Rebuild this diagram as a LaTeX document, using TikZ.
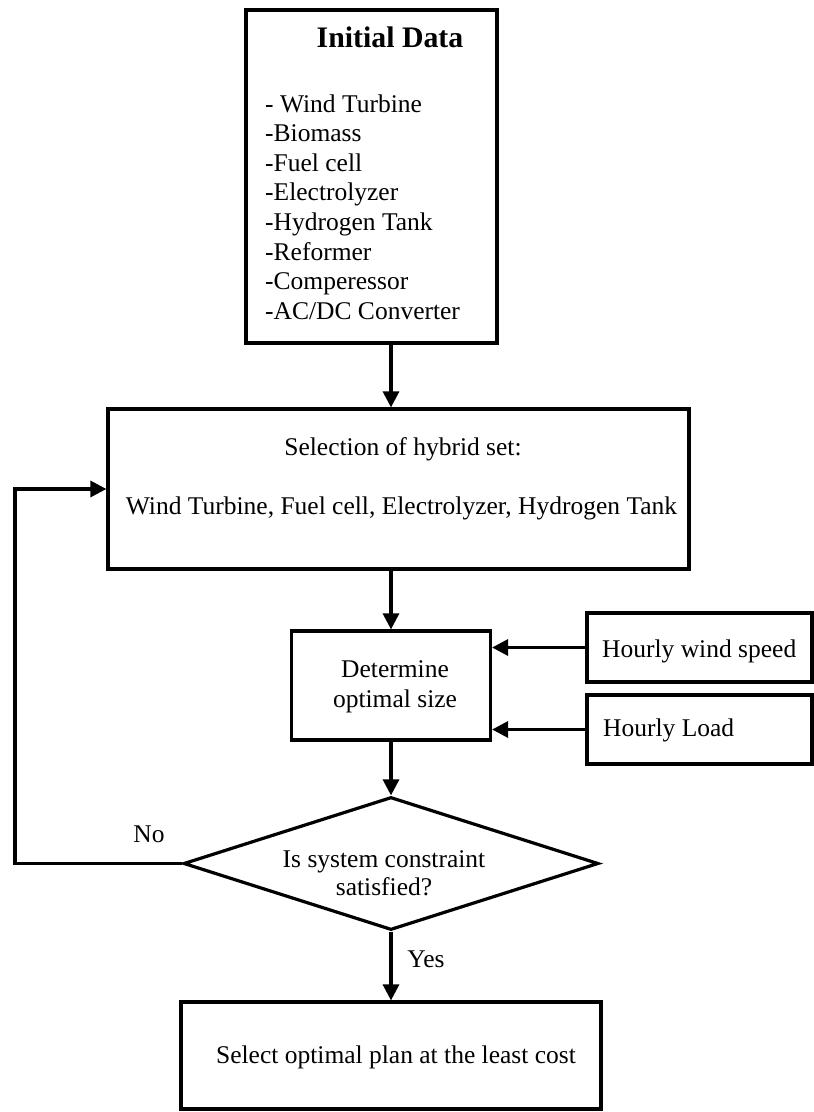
\documentclass[tikz,border=0pt]{standalone}
\usepackage{fontspec}
\setmainfont{Liberation Serif}
\usetikzlibrary{arrows.meta,shapes.geometric}
\begin{document}
\begin{tikzpicture}[x=1pt,y=-1pt,
  box/.style={draw=black,line width=3.2pt,rectangle,inner sep=0pt},
  dia/.style={draw=black,line width=3.2pt,diamond,inner sep=0pt,aspect=3.12},
  txt/.style={inner sep=0pt,font=\fontsize{25.5}{29.5}\selectfont},
  ttl/.style={inner sep=0pt,font=\fontsize{29.8}{34}\selectfont\bfseries},
  arr/.style={line width=3.2pt,-{Triangle[length=16pt,width=16pt]}}]
\useasboundingbox (0,0) rectangle (814,1112);
% boxes
\node[box,minimum width=251pt,minimum height=333pt] (init) at (371.5,176.5) {};
\node[box,minimum width=581pt,minimum height=160pt] (sel) at (398.5,489) {};
\node[box,minimum width=199pt,minimum height=109pt] (det) at (391,685.5) {};
\node[box,minimum width=225pt,minimum height=69pt] (wind) at (699.5,647.5) {};
\node[box,minimum width=225pt,minimum height=69pt] (load) at (699.5,729.5) {};
\node[dia,minimum width=415pt,minimum height=133pt] (dec) at (391,863.5) {};
\node[box,minimum width=420pt,minimum height=107pt] (final) at (391,1055.5) {};
% texts
\node[ttl,anchor=base] (t0) at (390,47) {Initial Data};
\foreach \t [count=\i] in {{- Wind Turbine},{-Biomass},{-Fuel cell},{-Electrolyzer},{-Hydrogen Tank},{-Reformer},{-Comperessor},{-AC/DC Converter}}{
  \node[txt,anchor=base west] (l\i) at (265,{112+29.6*(\i-1)}) {\t};
}
\node[txt,anchor=base] (s1) at (403,455) {Selection of hybrid set:};
\node[txt,anchor=base] (s2) at (401.5,514) {Wind Turbine, Fuel cell, Electrolyzer, Hydrogen Tank};
\node[txt,anchor=base] (d1) at (395,677) {Determine};
\node[txt,anchor=base] (d2) at (395,707) {optimal size};
\node[txt,anchor=base west] (w1) at (602,657) {Hourly wind speed};
\node[txt,anchor=base west] (h1) at (603,736) {Hourly Load};
\node[txt,anchor=base] (q1) at (384,867) {Is system constraint};
\node[txt,anchor=base] (q2) at (384,895) {satisfied?};
\node[txt,anchor=base] (no) at (149,842) {No};
\node[txt,anchor=base] (yes) at (426,967) {Yes};
\node[txt,anchor=base] (f1) at (396,1063) {Select optimal plan at the least cost};
% connectors
\coordinate (fb) at (15,863.5);
\draw[arr] (det.north |- init.south) -- (det.north |- sel.north);
\draw[arr] (det.north |- sel.south) -- (det.north);
\draw[arr] (wind.west) -- (wind.west -| det.east);
\draw[arr] (load.west) -- (load.west -| det.east);
\draw[arr] (det.south) -- (dec.north);
\draw[arr] (dec.west) -- (fb) |- (sel.west);
\draw[arr] (dec.south) -- (final.north);
\end{tikzpicture}
\end{document}
